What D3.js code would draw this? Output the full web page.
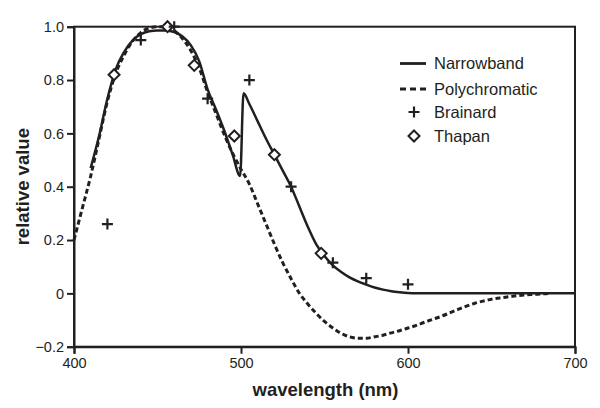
<!DOCTYPE html>
<html><head><meta charset="utf-8">
<script src="https://cdn.jsdelivr.net/npm/d3@7"></script>
<style>body{margin:0;background:#fff;} svg{display:block;font-family:"Liberation Sans",Arial,sans-serif;}</style>
</head><body><svg id="c" width="600" height="408"></svg>
<script>
const nbX = [410,415,420,425,430,435,440,445,450,455,460,465,470,475,480,485,490,495,499.5,501.5,505,510,515,520,525,530,535,540,545,550,555,560,565,570,575,580,585,590,595,600,605,650,700];
const nbY = [0.47,0.59,0.73,0.84,0.905,0.948,0.972,0.983,0.986,0.986,0.98,0.963,0.93,0.87,0.765,0.69,0.61,0.52,0.44,0.75,0.71,0.645,0.58,0.52,0.46,0.40,0.325,0.25,0.185,0.14,0.105,0.08,0.06,0.045,0.033,0.022,0.014,0.008,0.004,0.001,0,0,0];
const pcX = [400,405,410,415,420,425,430,435,440,445,450,455,460,465,470,475,480,485,490,495,500,505,510,515,520,525,530,535,540,545,550,555,560,565,570,575,580,585,590,595,600,605,610,615,620,625,630,635,640,645,650,655,660,665,670,675,680,685];
const pcY = [0.20,0.32,0.44,0.58,0.72,0.825,0.893,0.945,0.978,0.995,1.0,1.0,0.985,0.955,0.91,0.845,0.755,0.675,0.595,0.525,0.465,0.41,0.335,0.26,0.185,0.115,0.055,0.0,-0.04,-0.075,-0.105,-0.13,-0.15,-0.163,-0.168,-0.168,-0.163,-0.157,-0.148,-0.14,-0.13,-0.12,-0.108,-0.097,-0.086,-0.073,-0.06,-0.048,-0.037,-0.029,-0.022,-0.017,-0.013,-0.009,-0.006,-0.004,-0.002,0];
const brX = [420,440,460,480,505,530,555,575,600];
const brY = [0.26,0.95,1.0,0.73,0.80,0.40,0.115,0.057,0.034];
const thX = [424,456,472,496,520,548];
const thY = [0.82,1.0,0.855,0.59,0.52,0.15];
const xTicks = [400,500,600,700];
const yTicks = [-0.2,0,0.2,0.4,0.6,0.8,1.0];
const legendLabels = ["Narrowband","Polychromatic","Brainard","Thapan"];

const ink = "#231f20";
const svg = d3.select("#c");
const L=74,R=575,T=26.7,B=346.7;
const x = d3.scaleLinear().domain([400,700]).range([L,R]);
const y = d3.scaleLinear().domain([-0.2,1.0]).range([B,T]);

// frame
svg.append("rect").attr("x",L).attr("y",T).attr("width",R-L).attr("height",B-T)
  .attr("fill","none").attr("stroke",ink).attr("stroke-width",2);

const fmt = d => d===0?"0":d3.format(".1f")(d);
const xa = svg.append("g").attr("transform",`translate(0,${B})`)
  .call(d3.axisBottom(x).tickValues(xTicks).tickSize(7).tickPadding(4).tickFormat(d3.format("d")));
const ya = svg.append("g").attr("transform",`translate(${L},0)`)
  .call(d3.axisLeft(y).tickValues(yTicks).tickSize(7).tickPadding(3).tickFormat(fmt));
[xa,ya].forEach(a=>{
  a.select(".domain").attr("stroke",ink).attr("stroke-width",2);
  a.selectAll(".tick line").attr("stroke",ink).attr("stroke-width",2);
  a.selectAll("text").attr("fill",ink).style("font-size","14.5px").style("font-family","Liberation Sans, Arial, sans-serif");
});

const line = d3.line().x(d=>x(d[0])).y(d=>y(d[1])).curve(d3.curveMonotoneX);
svg.append("path").datum(pcX.map((v,i)=>[v,pcY[i]])).attr("d",line)
  .attr("fill","none").attr("stroke",ink).attr("stroke-width",3).attr("stroke-dasharray","5,3");
svg.append("path").datum(nbX.map((v,i)=>[v,nbY[i]])).attr("d",line)
  .attr("fill","none").attr("stroke",ink).attr("stroke-width",2.5).attr("stroke-linejoin","round");

function plus(g,cx,cy){
  g.append("path").attr("d",`M${cx-5.5},${cy}H${cx+5.5}M${cx},${cy-5.5}V${cy+5.5}`)
   .attr("stroke",ink).attr("stroke-width",2.2).attr("fill","none");
}
function diamond(g,cx,cy){
  g.append("path").attr("d",`M${cx},${cy-5.5}L${cx+5.5},${cy}L${cx},${cy+5.5}L${cx-5.5},${cy}Z`)
   .attr("stroke",ink).attr("stroke-width",2).attr("fill","#fff");
}
const mk = svg.append("g");
thX.forEach((v,i)=>diamond(mk,x(v),y(thY[i])));
brX.forEach((v,i)=>plus(mk,x(v),y(brY[i])));

// legend
const lg = svg.append("g");
const rowY = [63.5,89,112,136];
lg.append("line").attr("x1",400).attr("x2",426).attr("y1",rowY[0]).attr("y2",rowY[0]).attr("stroke",ink).attr("stroke-width",2.8);
lg.append("line").attr("x1",400).attr("x2",426).attr("y1",rowY[1]).attr("y2",rowY[1]).attr("stroke",ink).attr("stroke-width",2.8).attr("stroke-dasharray","6,4");
plus(lg,414,rowY[2]);
diamond(lg,414,rowY[3]);
legendLabels.forEach((t,i)=>lg.append("text").attr("x",434).attr("y",rowY[i]).attr("dy","0.36em")
  .attr("fill",ink).style("font-size","16.5px").text(t));

// axis titles
svg.append("text").attr("x",(L+R)/2+1).attr("y",396).attr("text-anchor","middle")
  .attr("fill",ink).style("font-size","18.5px").style("font-weight","bold").text("wavelength (nm)");
svg.append("text").attr("transform",`translate(29,${(T+B)/2}) rotate(-90)`).attr("text-anchor","middle")
  .attr("fill",ink).style("font-size","18.5px").style("font-weight","bold").text("relative value");
</script></body></html>
